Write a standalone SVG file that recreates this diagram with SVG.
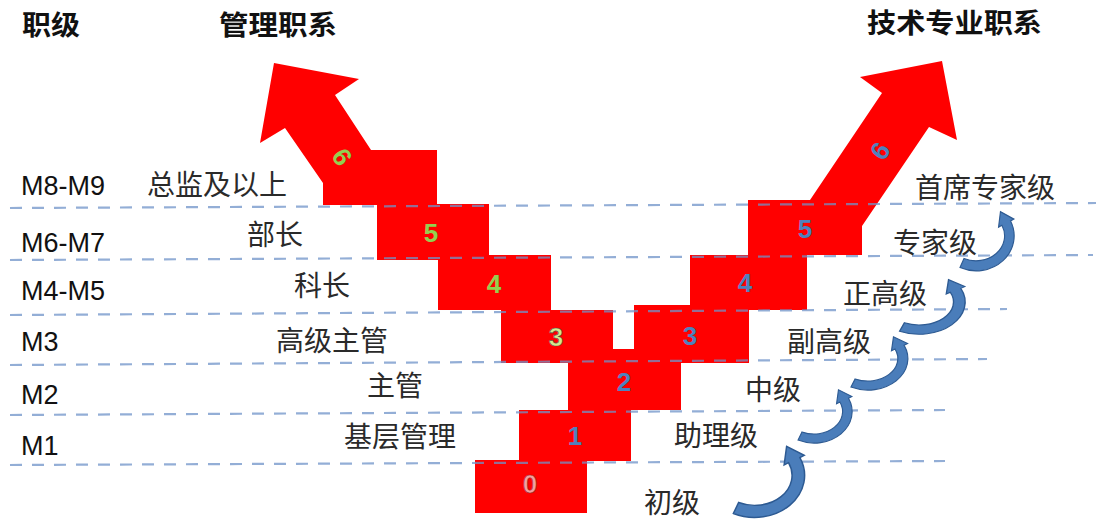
<svg xmlns="http://www.w3.org/2000/svg" width="1096" height="519" viewBox="0 0 1096 519">
  <style>
    .red { fill: #ff0000; }
    .hdr { font-family: "Noto Sans CJK SC", "Noto Sans", sans-serif; font-size: 27px; font-weight: bold; fill: #111; }
    .lvl { font-family: "Liberation Sans", Arial, sans-serif; font-size: 27px; fill: #111; }
    .lbl { font-family: "Noto Sans CJK SC", "Noto Sans", sans-serif; font-size: 28px; fill: #2a2a2a; }
    .num { font-family: "Liberation Sans", Arial, sans-serif; font-size: 26px; font-weight: bold; text-anchor: middle; }
    .g { fill: #92d050; }
    .b { fill: #4f81bd; }
    .y { fill: #d6e98a; stroke: #555; stroke-width: 0.6; }
    .p { fill: #f4a0a0; stroke: #9b3030; stroke-width: 0.6; }
    .dash { stroke: #6f93c8; stroke-opacity: 0.75; stroke-width: 2.2; stroke-dasharray: 12 10; fill: none; }
    .carr { fill: #4a7dba; stroke: #2d5a92; stroke-width: 1.2; }
  </style>
  <defs>
    <path id="ca" d="M-2.1,4.55 A40,35 0 0 0 51.1,-42 L54.6,-43.9 L40.5,-51.4 L38.5,-35.9 L42,-37.8 A30,25 0 0 1 2.1,-4.55 Z"/>
  </defs>
  <rect width="1096" height="519" fill="#ffffff"/>

  <!-- headers -->
  <g id="headers">
    <text class="hdr" x="22" y="35" textLength="58" lengthAdjust="spacingAndGlyphs">职级</text>
    <text class="hdr" x="219" y="35" textLength="118" lengthAdjust="spacingAndGlyphs">管理职系</text>
    <text class="hdr" x="867" y="33" textLength="175" lengthAdjust="spacingAndGlyphs">技术专业职系</text>
  </g>

  <!-- red staircase -->
  <g id="mgmt-arrow-6">
    <polygon class="red" points="274,63 359,79 335,95 371,150 437,150 437,205 323,205 323,183 285,128 260,143"/>
  </g>
  <g id="block-5-left"><rect class="red" x="377" y="204" width="112" height="56"/></g>
  <g id="block-4-left"><rect class="red" x="438" y="255" width="113" height="55"/></g>
  <g id="block-3-left"><rect class="red" x="501" y="310" width="112" height="53"/><rect class="red" x="612" y="349" width="23" height="14"/></g>
  <g id="tech-arrow-6">
    <polygon class="red" points="942,61 957,140 929,127 862,226 862,255 748,255 748,200 810,200 882,93 860,77"/>
  </g>
  <g id="block-4-right"><rect class="red" x="690" y="255" width="117" height="55"/></g>
  <g id="block-3-right"><rect class="red" x="634" y="305" width="115" height="58"/></g>
  <g id="block-2"><rect class="red" x="568" y="362" width="113" height="48"/></g>
  <g id="block-1"><rect class="red" x="519" y="410" width="112" height="51"/></g>
  <g id="block-0"><rect class="red" x="475" y="460" width="112" height="53"/></g>

  <!-- dashed level lines -->
  <g id="level-lines">
    <line class="dash" x1="10" y1="208" x2="1096" y2="203"/>
    <line class="dash" x1="10" y1="260" x2="1093" y2="255"/>
    <line class="dash" x1="10" y1="315" x2="1007" y2="309"/>
    <line class="dash" x1="10" y1="365" x2="987" y2="359"/>
    <line class="dash" x1="10" y1="415" x2="945" y2="410"/>
    <line class="dash" x1="10" y1="465" x2="945" y2="461"/>
  </g>

  <!-- numbers -->
  <g id="numbers">
    <text class="num g" transform="translate(342,157) rotate(56)" x="0" y="9">6</text>
    <text class="num g" x="431" y="242">5</text>
    <text class="num g" x="494" y="293">4</text>
    <text class="num y" x="556" y="346">3</text>
    <text class="num b" transform="translate(880,151) rotate(-56)" x="0" y="9">6</text>
    <text class="num b" x="805" y="238">5</text>
    <text class="num b" x="745" y="292">4</text>
    <text class="num b" x="690" y="345">3</text>
    <text class="num b" x="624" y="391">2</text>
    <text class="num b" x="575" y="445">1</text>
    <text class="num p" x="530" y="493">0</text>
  </g>

  <!-- level codes -->
  <g id="levels">
    <text class="lvl" x="21" y="195">M8-M9</text>
    <text class="lvl" x="21" y="252">M6-M7</text>
    <text class="lvl" x="21" y="300">M4-M5</text>
    <text class="lvl" x="21" y="351">M3</text>
    <text class="lvl" x="21" y="404">M2</text>
    <text class="lvl" x="21" y="455">M1</text>
  </g>

  <!-- management labels -->
  <g id="mgmt-labels">
    <text class="lbl" x="147" y="195">总监及以上</text>
    <text class="lbl" x="247" y="245">部长</text>
    <text class="lbl" x="294" y="296">科长</text>
    <text class="lbl" x="276" y="351">高级主管</text>
    <text class="lbl" x="367" y="396">主管</text>
    <text class="lbl" x="344" y="447">基层管理</text>
  </g>

  <!-- technical labels -->
  <g id="tech-labels">
    <text class="lbl" x="915" y="198">首席专家级</text>
    <text class="lbl" x="893" y="253">专家级</text>
    <text class="lbl" x="843" y="304">正高级</text>
    <text class="lbl" x="787" y="352">副高级</text>
    <text class="lbl" x="745" y="400">中级</text>
    <text class="lbl" x="674" y="446">助理级</text>
    <text class="lbl" x="644" y="513">初级</text>
  </g>

  <!-- curved promotion arrows -->
  <g id="connectors">
    <use href="#ca" class="carr" transform="translate(736,508) scale(1.25,1.2)"/>
    <use href="#ca" class="carr" transform="translate(800,436) scale(0.95,0.9)"/>
    <use href="#ca" class="carr" transform="translate(853,383) scale(1.0,0.9)"/>
    <use href="#ca" class="carr" transform="translate(902,327) scale(1.15,0.92)"/>
    <use href="#ca" class="carr" transform="translate(962,263) scale(0.95,1.0)"/>
  </g>
</svg>
